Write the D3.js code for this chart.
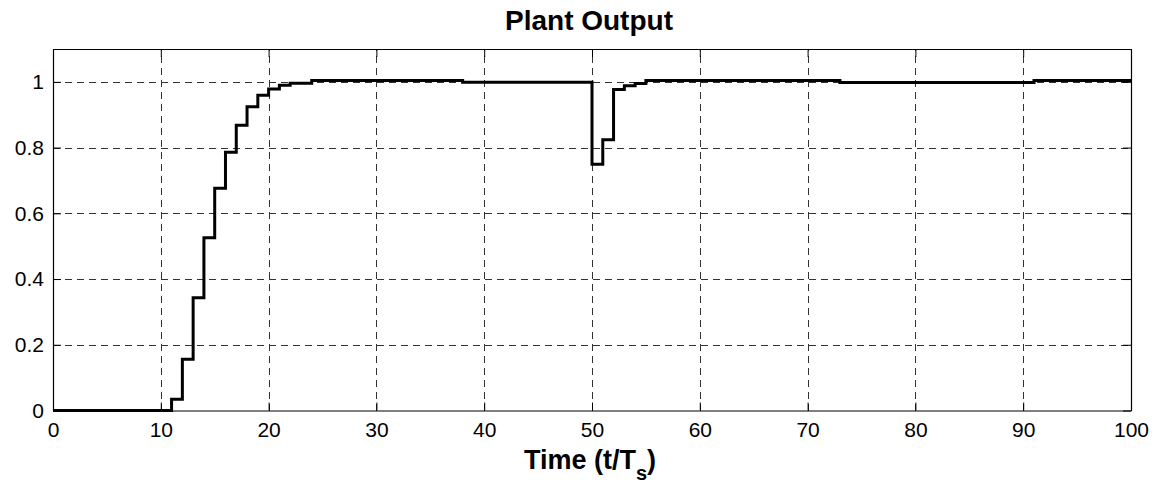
<!DOCTYPE html>
<html>
<head>
<meta charset="utf-8">
<script src="https://cdn.jsdelivr.net/npm/d3@7"></script>
<style>
  html, body { margin: 0; padding: 0; background: #fff; }
  svg { display: block; font-family: "Liberation Sans", Arial, sans-serif; }
</style>
</head>
<body>
<svg id="chart" width="1155" height="487"></svg>
<script>
// Data (zero-order-hold plant output)
const stepTimes  = [0, 11, 12, 13, 14, 15, 16, 17, 18, 19, 20, 21, 22, 24, 38, 50, 51, 52, 53, 54, 55, 73, 91, 100];
const stepValues = [0, 0.034, 0.156, 0.343, 0.526, 0.676, 0.786, 0.868, 0.924, 0.959, 0.978, 0.990, 0.996, 1.004, 0.999, 0.749, 0.824, 0.977, 0.988, 0.995, 1.004, 0.998, 1.004, 1.004];
const xTicks = [0, 10, 20, 30, 40, 50, 60, 70, 80, 90, 100];
const yTicks = [0, 0.2, 0.4, 0.6, 0.8, 1];
const yTickLabels = ["0", "0.2", "0.4", "0.6", "0.8", "1"];
const titleText = "Plant Output";

const svg = d3.select("#chart");
const L = 53, R = 1131, T = 49, B = 410.5;

const x = d3.scaleLinear().domain([0, 100]).range([L, R]);
const y = d3.scaleLinear().domain([0, 1.1]).range([B, T]);

const tickLen = 8;

// grid
const grid = svg.append("g").attr("stroke", "#333").attr("stroke-width", 1)
  .attr("stroke-dasharray", "7,5").attr("shape-rendering", "crispEdges");
grid.selectAll(".vx").data(xTicks.filter(d => d > 0 && d < 100)).join("line")
  .attr("x1", d => Math.round(x(d)) + 0.5).attr("x2", d => Math.round(x(d)) + 0.5)
  .attr("y1", B).attr("y2", T);
grid.selectAll(".hy").data(yTicks.filter(d => d > 0)).join("line")
  .attr("x1", L).attr("x2", R)
  .attr("y1", d => Math.round(y(d)) + 0.5).attr("y2", d => Math.round(y(d)) + 0.5);

// axes (inward ticks, MATLAB-like box)
const xAxisB = d3.axisBottom(x).tickValues(xTicks).tickSizeInner(-tickLen).tickSizeOuter(0).tickPadding(12).tickFormat(d3.format("d"));
const xAxisT = d3.axisTop(x).tickValues(xTicks).tickSizeInner(-tickLen).tickSizeOuter(0).tickFormat("");
const yAxisL = d3.axisLeft(y).tickValues(yTicks).tickSizeInner(-tickLen).tickSizeOuter(0).tickPadding(9).tickFormat((d, i) => yTickLabels[i]);
const yAxisR = d3.axisRight(y).tickValues(yTicks).tickSizeInner(-tickLen).tickSizeOuter(0).tickFormat("");

function style(g) {
  g.selectAll("path").attr("stroke", "#000").attr("stroke-width", 1.2);
  g.selectAll("line").attr("stroke", "#000").attr("stroke-width", 1);
  g.selectAll("text").attr("fill", "#000").attr("font-size", 21)
    .attr("font-family", "'Liberation Sans', Arial, sans-serif");
}
svg.append("g").attr("transform", `translate(0,${B})`).call(xAxisB).call(style);
svg.append("g").attr("transform", `translate(0,${T})`).call(xAxisT).call(style);
svg.append("g").attr("transform", `translate(${L},0)`).call(yAxisL).call(style);
svg.append("g").attr("transform", `translate(${R},0)`).call(yAxisR).call(style);

// data line
const pts = stepTimes.map((t, i) => [t, stepValues[i]]);
const line = d3.line().x(d => x(d[0])).y(d => y(d[1])).curve(d3.curveStepAfter);
svg.append("path").datum(pts).attr("d", line)
  .attr("fill", "none").attr("stroke", "#000").attr("stroke-width", 3)
  .attr("stroke-linejoin", "miter");

// title
svg.append("text").attr("x", (L + R) / 2 - 3).attr("y", 30)
  .attr("text-anchor", "middle").attr("font-weight", "bold").attr("font-size", 28)
  .text(titleText);

// x label with subscript
const xl = svg.append("text").attr("x", (L + R) / 2 - 2).attr("y", 469)
  .attr("text-anchor", "middle").attr("font-weight", "bold").attr("font-size", 27);
xl.append("tspan").text("Time (t/T");
xl.append("tspan").attr("dy", 11).attr("font-size", 20).text("s");
xl.append("tspan").attr("dy", -11).text(")");
</script>
</body>
</html>
